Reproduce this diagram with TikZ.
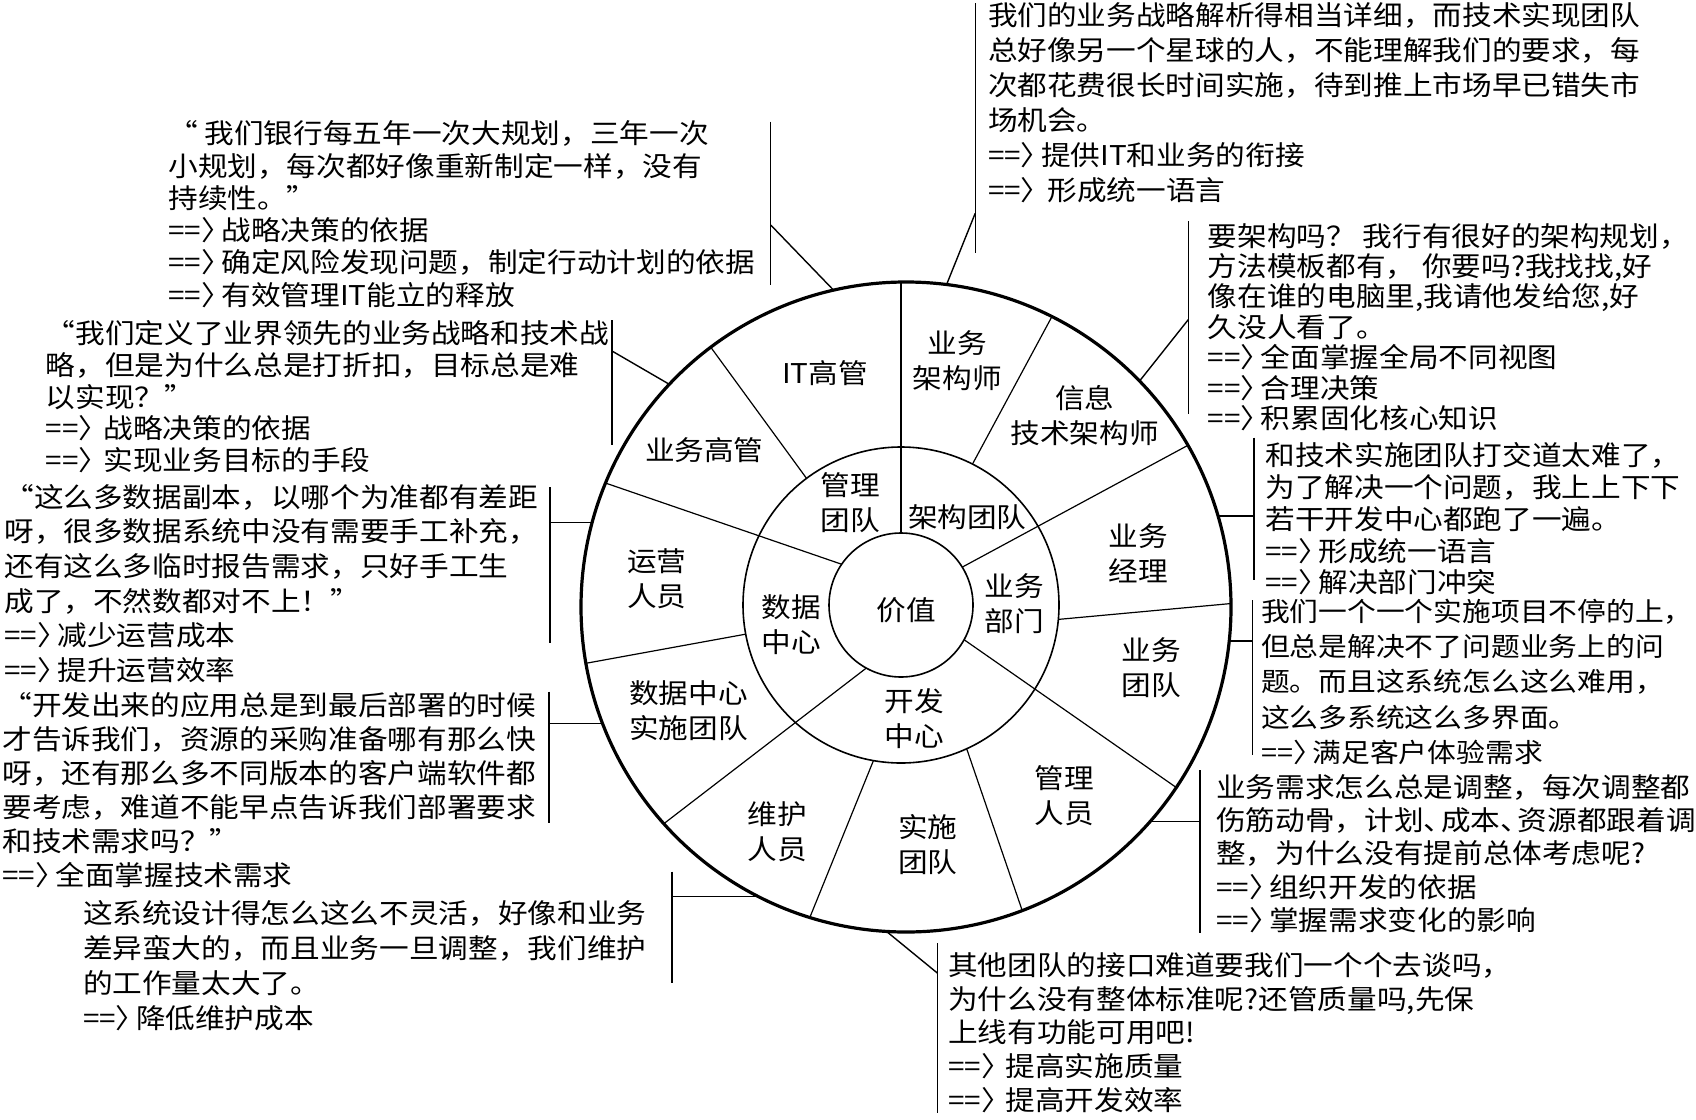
\documentclass[tikz,border=0pt]{standalone}
\usepackage{fontspec}
\setmainfont{Noto Sans CJK SC}[FakeStretch=1.09]
\newcommand\lbfont{\fontsize{13.6pt}{17.5pt}\selectfont}
\newcommand\bfs[1]{\fontsize{13.6pt}{#1}\selectfont}
\newcommand\arr{==〉\kern-0.35em}
\tikzset{
  lab/.style={align=center, inner sep=0pt, font=\lbfont},
  blk/.style={anchor=north west, align=left, inner sep=0pt},
  rim/.style={line width=1.6pt},
  ringline/.style={line width=0.8pt},
  spoke/.style={line width=0.6pt},
  brk/.style={line width=0.7pt},
}
\begin{document}
\begin{tikzpicture}[x=0.5pt,y=-0.5pt]
\fill[white] (0,0) rectangle (1696,1119);
\useasboundingbox (0,0) rectangle (1696,1119);
\coordinate (OC) at (906,607);
\coordinate (IC) at (901,605);
% spokes through both rings
\coordinate (s1a) at (901,545);   \coordinate (s1b) at (901,255);
\coordinate (s2a) at (952.1,572.6); \coordinate (s2b) at (1207,435);
\coordinate (s3a) at (953,632);   \coordinate (s3b) at (1192.5,798.8);
\coordinate (s4a) at (876.4,660.3); \coordinate (s4b) at (642.2,840.3);
\coordinate (s5a) at (854.9,568.8); \coordinate (s5b) at (576.9,473.2);
% spokes of the outer ring only
\coordinate (s6a) at (814,488.6);  \coordinate (s6b) at (693.3,323.3);
\coordinate (s7a) at (966.1,475.9); \coordinate (s7b) at (1063.5,295.1);
\coordinate (s8a) at (1044.1,620.7); \coordinate (s8b) at (1251,601.7);
\coordinate (s10a) at (962.4,736.3); \coordinate (s10b) at (1029.1,930.6);
\coordinate (s11a) at (878,749.3);  \coordinate (s11b) at (800.6,940.2);
\coordinate (s13a) at (757.5,632);  \coordinate (s13b) at (556.8,668.6);
\begin{scope}[even odd rule]
  \clip (OC) circle[radius=162.5pt] (IC) circle[radius=36pt];
  \foreach \s in {1,2,3,4,5} \draw[spoke] (s\s a) -- (s\s b);
\end{scope}
\begin{scope}[even odd rule]
  \clip (OC) circle[radius=162.5pt] (IC) circle[radius=79pt];
  \foreach \s in {6,7,8,10,11,13} \draw[spoke] (s\s a) -- (s\s b);
\end{scope}
\draw[ringline] (IC) circle[radius=36pt];
\draw[ringline] (IC) circle[radius=79pt];
\draw[rim] (OC) circle[radius=162.5pt];

% ring labels
\node[lab] (value) at (906,610) {价值};
\node[lab] (mgmtteam) at (850.6,502.2) {管理\\团队};
\node[lab] (archteam) at (967.3,517.2) {架构团队};
\node[lab] (bizdept) at (1014,603.4) {业务\\部门};
\node[lab] (devctr) at (914,719) {开发\\中心};
\node[lab] (datactr) at (791.3,624.8) {数据\\中心};
\node[lab] (itexec) at (825,373) {IT高管};
\node[lab] (bizarch) at (957.4,361) {业务\\架构师};
\node[lab] (itarch) at (1084.7,415.2) {信息\\技术架构师};
\node[lab] (bizexec) at (704.3,450) {业务高管};
\node[lab] (ops) at (656.9,578.5) {运营\\人员};
\node[lab] (bizmgr) at (1138,552.8) {业务\\经理};
\node[lab] (bizteam) at (1151,667.5) {业务\\团队};
\node[lab] (dcimpl) at (688.5,710.2) {数据中心\\实施团队};
\node[lab] (mgrs) at (1064,796) {管理\\人员};
\node[lab] (maint) at (777.5,831.6) {维护\\人员};
\node[lab] (implteam) at (927.7,844.7) {实施\\团队};

% text blocks
\node[blk, font=\bfs{16.15pt}] (q1) at (168,120.3) {“ 我们银行每五年一次大规划，三年一次\\小规划，每次都好像重新制定一样，没有\\持续性。”\\\arr 战略决策的依据\\\arr 确定风险发现问题，制定行动计划的依据\\\arr 有效管理IT能立的释放};
\node[blk, font=\bfs{17.5pt}] (q2) at (987.6,2) {我们的业务战略解析得相当详细，而技术实现团队\\总好像另一个星球的人，不能理解我们的要求，每\\次都花费很长时间实施，待到推上市场早已错失市\\场机会。\\\arr 提供IT和业务的衔接\\\arr{} 形成统一语言};
\node[blk, font=\bfs{15.2pt}] (q3) at (1207.5,222.7) {要架构吗？ 我行有很好的架构规划，\\方法模板都有， 你要吗?我找找,好\\像在谁的电脑里,我请他发给您,好\\久没人看了。\\\arr 全面掌握全局不同视图\\\arr 合理决策\\\arr 积累固化核心知识};
\node[blk, font=\bfs{15.85pt}] (q4) at (1265,442.4) {和技术实施团队打交道太难了，\\为了解决一个问题，我上上下下\\若干开发中心都跑了一遍。\\\arr 形成统一语言\\\arr 解决部门冲突};
\node[blk, font=\fontsize{13.2pt}{17.65pt}\selectfont] (q5) at (1260.7,598.5) {我们一个一个实施项目不停的上，\\但总是解决不了问题业务上的问\\题。而且这系统怎么这么难用，\\这么多系统这么多界面。\\\arr 满足客户体验需求};
\node[blk, font=\bfs{15.9pt}] (q6) at (45.5,320) {“我们定义了业界领先的业务战略和技术战\\略，但是为什么总是打折扣，目标总是难\\以实现？”\\\arr\,战略决策的依据\\\arr\,实现业务目标的手段};
\node[blk, font=\bfs{17.35pt}] (q7) at (4,483.7) {“这么多数据副本，以哪个为准都有差距\\呀，很多数据系统中没有需要手工补充，\\还有这么多临时报告需求，只好手工生\\成了，不然数都对不上！”\\\arr 减少运营成本\\\arr 提升运营效率};
\node[blk, font=\bfs{17pt}] (q8) at (2,692) {“开发出来的应用总是到最后部署的时候\\才告诉我们，资源的采购准备哪有那么快\\呀，还有那么多不同版本的客户端软件都\\要考虑，难道不能早点告诉我们部署要求\\和技术需求吗？”\\\arr 全面掌握技术需求};
\node[blk, font=\bfs{17.5pt}] (q9) at (82.6,900) {这系统设计得怎么这么不灵活，好像和业务\\差异蛮大的，而且业务一旦调整，我们维护\\的工作量太大了。\\\arr 降低维护成本};
\node[blk, font=\bfs{16.9pt}] (q10) at (947.7,952) {其他团队的接口难道要我们一个个去谈吗，\\为什么没有整体标准呢?还管质量吗,先保\\上线有功能可用吧!\\\arr\,提高实施质量\\\arr\,提高开发效率};
\node[blk, font=\bfs{16.65pt}] (q11) at (1215.8,773.7) {业务需求怎么总是调整，每次调整都\\伤筋动骨，计划、\kern-0.45em成本、\kern-0.45em资源都跟着调\\整，为什么没有提前总体考虑呢?\\\arr 组织开发的依据\\\arr 掌握需求变化的影响};

% brackets
\coordinate (k1a) at (770.7,121.7);  \coordinate (k1b) at (770.7,285);
\coordinate (k2a) at (975.2,3.3);    \coordinate (k2b) at (975.2,253.3);
\coordinate (k3a) at (1188.3,221);   \coordinate (k3b) at (1188.3,414);
\coordinate (k4a) at (1253.8,437.5); \coordinate (k4b) at (1253.8,580.4);
\coordinate (k5a) at (1252.7,600);   \coordinate (k5b) at (1252.7,755);
\coordinate (k6a) at (612,320);      \coordinate (k6b) at (612,445);
\coordinate (k7a) at (550,487);      \coordinate (k7b) at (550,643);
\coordinate (k8a) at (549,691.7);    \coordinate (k8b) at (549,823.3);
\coordinate (k9a) at (672,871.7);    \coordinate (k9b) at (672,983);
\coordinate (k10a) at (937.3,943.3); \coordinate (k10b) at (937.3,1113);
\coordinate (k11a) at (1200,770);    \coordinate (k11b) at (1200,933.3);
\foreach \k in {1,...,11} \draw[brk] (k\k a) -- (k\k b);

% connectors to the rim
\coordinate (c1a) at (770.7,225);   \coordinate (c1b) at (845,302);
\coordinate (c2a) at (975.2,213.3); \coordinate (c2b) at (941.5,297.2);
\coordinate (c3a) at (1188.3,319.6); \coordinate (c3b) at (1131.8,390.8);
\coordinate (c4a) at (1253.8,516);  \coordinate (c4b) at (1210,516);
\coordinate (c5a) at (1252.7,641);  \coordinate (c5b) at (1210,641);
\coordinate (c6a) at (612,351);     \coordinate (c6b) at (680,390.5);
\coordinate (c7a) at (550,522.5);   \coordinate (c7b) at (605,522.5);
\coordinate (c8a) at (549,723.3);   \coordinate (c8b) at (615,723.3);
\coordinate (c9a) at (672,896.7);   \coordinate (c9b) at (775,896.7);
\coordinate (c10a) at (937.3,973);  \coordinate (c10b) at (875,922);
\coordinate (c11a) at (1200,821.7); \coordinate (c11b) at (1135,821.7);
\begin{scope}[even odd rule]
  \clip (-5,-5) rectangle (1701,1124) (OC) circle[radius=162.5pt];
  \foreach \c in {1,...,11} \draw[brk] (c\c a) -- (c\c b);
\end{scope}
\end{tikzpicture}
\end{document}
